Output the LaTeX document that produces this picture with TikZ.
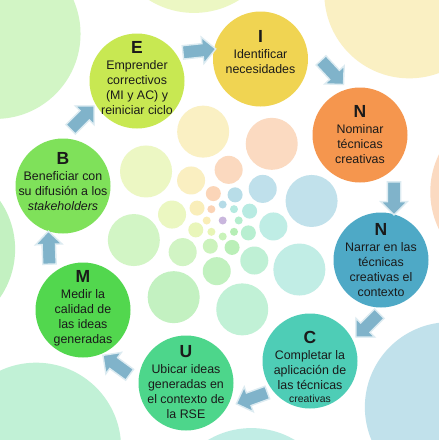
\documentclass[tikz,border=0pt]{standalone}
\usepackage{fontspec}
\setmainfont{Liberation Sans}
\usetikzlibrary{shapes.arrows}
\definecolor{cI}{HTML}{F0D452}
\definecolor{cN}{HTML}{F5964E}
\definecolor{cNt}{HTML}{4EA9C6}
\definecolor{cC}{HTML}{4ECDB6}
\definecolor{cU}{HTML}{4DD68B}
\definecolor{cM}{HTML}{52D74E}
\definecolor{cB}{HTML}{7FE15A}
\definecolor{cE}{HTML}{C8E852}
\definecolor{cP}{HTML}{C9B6DD}
\definecolor{arrf}{HTML}{80B3CA}
\definecolor{arrb}{HTML}{DCEBF1}
\definecolor{txt}{HTML}{1A1A1A}
\newcommand\circtxt[2]{\begin{tabular}[t]{@{}c@{}}{\fontsize{17.5}{17.5}\selectfont\bfseries #1}\\[1.5pt] #2\end{tabular}}
\tikzset{
  mainc/.style={circle, minimum size=95pt, inner sep=0pt, draw=none},
  lbl/.style={anchor=base, inner sep=0pt, text=txt, font=\fontsize{12.4}{15}\selectfont},
  blockarrow/.style={single arrow, fill=arrf, draw=arrb, line width=1.4pt,
     minimum height=33pt, single arrow head extend=6.5pt, inner sep=0pt, inner ysep=6pt}
}
\begin{document}
\begin{tikzpicture}[x=1pt,y=-1pt]
\useasboundingbox (0,0) rectangle (439,440);
\fill[white] (0,0) rectangle (439,440);
\clip (0,0) rectangle (439,440);
% spiral of pale circles
\foreach \n/\d/\r/\p in {1/16/4/42, 2/28.5/7.5/40, 3/51/14/36, 4/91/26/35, 6/294/85/35} {
  \foreach \k/\col in {0/cI,1/cN,2/cNt,3/cC,4/cU,5/cM,6/cB,7/cE} {
    \pgfmathsetmacro\ang{-(76.5-45*\k+25.9*(5-\n))}
    \fill[\col!\p!white] (222.7,220.5) ++(\ang:\d) circle (\r);
  }
}
\fill[cP] (222.7,220.5) circle (4);
% main circles
\node[mainc, fill=cI]  (I)  at (260.5,59)  {};
\node[mainc, fill=cN]  (N1) at (360,135)   {};
\node[mainc, fill=cNt] (N2) at (381,260)   {};
\node[mainc, fill=cC]  (C)  at (310,361)   {};
\node[mainc, fill=cU]  (U)  at (186,383)   {};
\node[mainc, fill=cM]  (M)  at (83,310)    {};
\node[mainc, fill=cB]  (B)  at (63,186)    {};
\node[mainc, fill=cE]  (E)  at (137,81)    {};
% texts
\node[lbl] (tI)  at (260.5,42) {\circtxt{I}{Identificar\\necesidades}};
\node[lbl] (tN1) at (360,117)  {\circtxt{N}{Nominar\\técnicas\\creativas}};
\node[lbl] (tN2) at (381,235)  {\circtxt{N}{Narrar en las\\técnicas\\creativas el\\contexto}};
\node[lbl] (tC)  at (310,343)  {\circtxt{C}{Completar la\\aplicación de\\las técnicas\\[-2.4pt]{\fontsize{10.4}{12}\selectfont creativas}}};
\node[lbl] (tU)  at (186,357)  {\circtxt{U}{Ubicar ideas\\generadas en\\el contexto de\\la RSE}};
\node[lbl] (tM)  at (83,282)   {\circtxt{M}{Medir la\\calidad de\\las ideas\\generadas}};
\node[lbl] (tB)  at (63,164)   {\circtxt{B}{Beneficiar con\\su difusión a los\\\textit{stakeholders}}};
\node[lbl] (tE)  at (137,53)   {\circtxt{E}{Emprender\\correctivos\\(MI y AC) y\\reiniciar ciclo}};
% arrows
\node[blockarrow, rotate=6]    (aEI)  at (196,51)  {};
\node[blockarrow, rotate=-47]  (aIN)  at (330,70)  {};
\node[blockarrow, rotate=-90]  (aNN)  at (394,195) {};
\node[blockarrow, rotate=-135] (aNC)  at (370,323) {};
\node[blockarrow, rotate=-160] (aCU)  at (255,397) {};
\node[blockarrow, rotate=144]  (aUM)  at (119,367) {};
\node[blockarrow, rotate=92]   (aMB)  at (49,251)  {};
\node[blockarrow, rotate=45]   (aBE)  at (80,120)  {};
\end{tikzpicture}
\end{document}
